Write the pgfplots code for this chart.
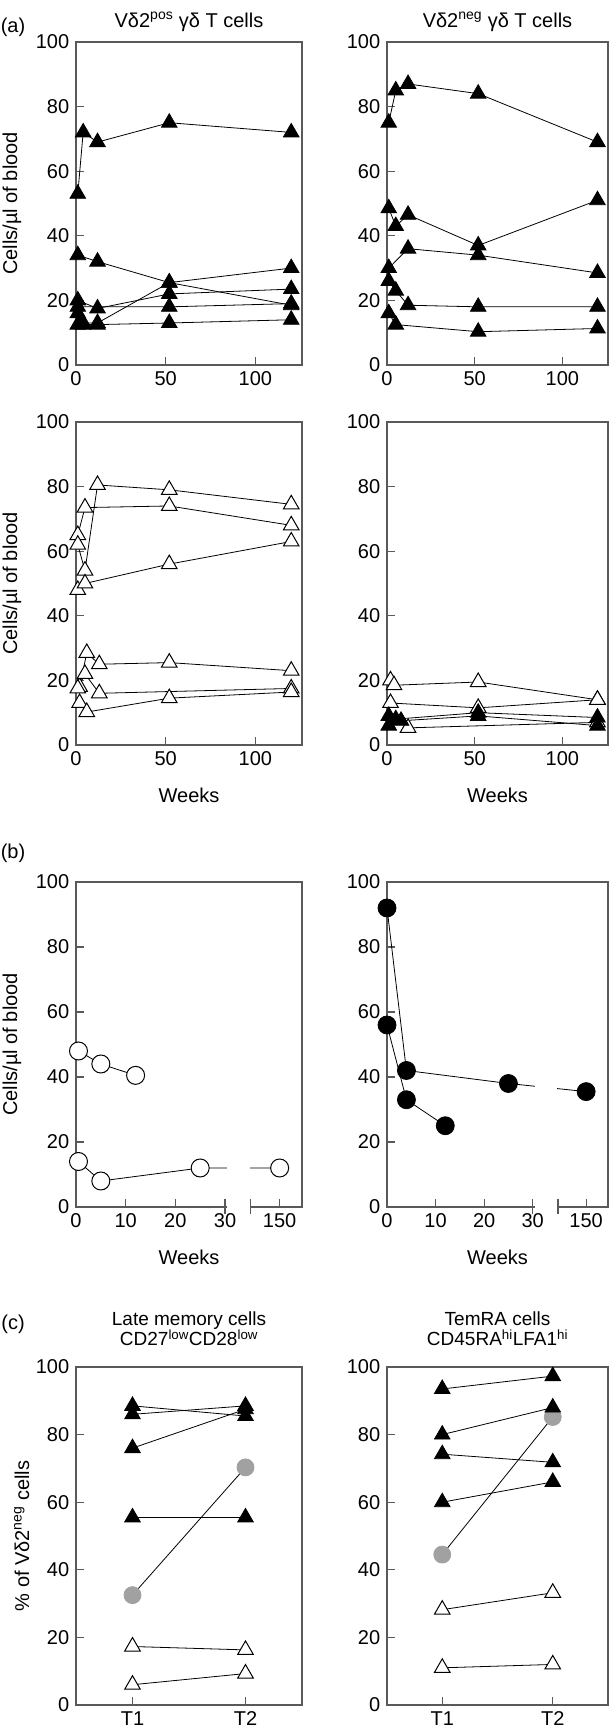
\documentclass[border=0pt]{standalone}
\usepackage{fontspec}
\setmainfont{Liberation Sans}
\usepackage{pgfplots}
\pgfplotsset{compat=1.18}
\definecolor{frame}{gray}{0.35}
\definecolor{dotgrey}{gray}{0.63}
\pgfplotsset{
  panel/.style={scale only axis, height=323pt, ymin=0, ymax=100, ytick={0,20,...,100},
    tick pos=left, axis line style={frame, line width=1.4pt},
    every tick/.style={frame, line width=1.3pt}, major tick length=8pt,
    /pgf/number format/assume math mode=true, tick label style={black},
    every axis title/.style={at={(0.5,1.062)}, anchor=center},
    every axis y label/.style={at={(-0.283,0.5)}, rotate=90, anchor=center},
    every axis x label/.style={at={(0.5,-0.155)}, anchor=center}},
  weeksA/.style={xmin=0, xmax=126, xtick={0,50,100}},
  weeksB/.style={height=325pt, clip=false,
    x coord trafo/.code={\pgfmathparse{##1>100 ? ##1-109 : ##1}},
    xmin=0, xmax=154.5, xtick={0,10,20,30,150}, xticklabels={0,10,20,30,150}},
  tpoints/.style={height=338pt, xmin=0.5, xmax=2.5, xtick={1,2}, xticklabels={T1,T2},
    every axis title/.style={at={(0.5,1.112)}, anchor=center, align=center,
      font=\fontsize{19}{20}\selectfont},
    every axis y label/.style={at={(-0.24,0.5)}, rotate=90, anchor=center}},
  ft/.style={black, line width=0.8pt, mark=triangle*, mark size=9pt, mark options={fill=black, solid}},
  ot/.style={black, line width=0.8pt, mark=triangle*, mark size=9pt, mark options={fill=white, draw=black, line width=1pt}},
  fc/.style={black, line width=0.8pt, mark=*, mark size=9pt, mark options={fill=black}},
  oc/.style={black, line width=0.8pt, mark=*, mark size=9pt, mark options={fill=white, draw=black, line width=1pt}},
  gc/.style={black, line width=0.8pt, mark=*, mark size=8.5pt, mark options={fill=dotgrey, draw=dotgrey}},
}
\newcommand{\breakmarks}{%
  \fill[white] (axis cs:30.4,-0.8) rectangle (axis cs:144,97);
  \draw[frame, line width=1.3pt] ([yshift=-7pt]axis cs:30,0) -- ([yshift=8pt]axis cs:30,0);
  \draw[frame, line width=1.3pt] ([yshift=-7pt]axis cs:144.2,0) -- ([yshift=8pt]axis cs:144.2,0);}
\begin{document}
\fontsize{20}{24}\selectfont
\begin{tikzpicture}
\useasboundingbox (0pt,0pt) rectangle (610pt,1734pt);
\node at (13pt,1707pt) {(a)};
\node at (13pt,881pt) {(b)};
\node at (13pt,410pt) {(c)};

% (a) top left
\begin{axis}[panel, weeksA, at={(76pt,1369pt)}, anchor=south west, width=226pt,
  title={Vδ2\textsuperscript{pos} γδ T cells}, ylabel={Cells/µl of blood}]
\addplot[ft] coordinates {(1,53) (4,72) (12,69) (52,75) (120,72)};
\addplot[ft] coordinates {(1,34) (12,32) (52,25.5) (120,18.5)};
\addplot[ft] coordinates {(1,20) (12,17.5) (52,22) (120,23.5)};
\addplot[ft] coordinates {(1,18) (52,18) (120,19)};
\addplot[ft] coordinates {(1,16) (4,13) (12,13) (52,25.5) (120,30)};
\addplot[ft] coordinates {(1,12.5) (4,12.5) (12,12.5) (52,13) (120,14)};
\end{axis}

% (a) top right
\begin{axis}[panel, weeksA, at={(387pt,1369pt)}, anchor=south west, width=221pt,
  title={Vδ2\textsuperscript{neg} γδ T cells}]
\addplot[ft] coordinates {(1,75) (5,85) (12,87) (52,84) (120,69)};
\addplot[ft] coordinates {(1,48.5) (5,43) (12,46.5) (52,37) (120,51)};
\addplot[ft] coordinates {(1,30) (12,36) (52,34) (120,28.5)};
\addplot[ft] coordinates {(1,26) (5,23) (12,18.5) (52,18) (120,18)};
\addplot[ft] coordinates {(1,16) (5,12.5) (52,10.3) (120,11.3)};
\end{axis}

% (a) bottom left
\begin{axis}[panel, weeksA, at={(76pt,989pt)}, anchor=south west, width=226pt,
  ylabel={Cells/µl of blood}, xlabel={Weeks}]
\addplot[ot] coordinates {(1,65) (5,73.5) (52,74) (120,68)};
\addplot[ot] coordinates {(1,62) (5,54) (12,80.5) (52,79) (120,74.5)};
\addplot[ot] coordinates {(1,48) (5,50) (52,56) (120,63)};
\addplot[ot] coordinates {(2,18) (6,28.5) (13,25) (52,25.5) (120,23)};
\addplot[ot] coordinates {(1,17.5) (5,22) (13,16) (120,17.5)};
\addplot[ot] coordinates {(2,13) (6,10.2) (52,14.5) (120,16.4)};
\end{axis}

% (a) bottom right
\begin{axis}[panel, weeksA, at={(387pt,989pt)}, anchor=south west, width=221pt,
  xlabel={Weeks}]
\addplot[ot] coordinates {(2,20) (4,18.5) (52,19.5) (120,14)};
\addplot[ot] coordinates {(2,13) (52,11.5) (120,14)};
\addplot[ot] coordinates {(12,5.3) (120,7)};
\addplot[ft] coordinates {(1,9) (5,8) (52,10) (120,8.5)};
\addplot[ft] coordinates {(1,6) (8,7.5) (52,9) (120,6)};
\end{axis}

% (b) left
\begin{axis}[panel, weeksB, at={(76pt,527pt)}, anchor=south west, width=226pt,
  ylabel={Cells/µl of blood}, xlabel={Weeks}]
\addplot[oc] coordinates {(0.5,48) (5,44) (12,40.5)};
\addplot[oc] coordinates {(0.5,14) (5,8) (25,12) (150,12)};
\breakmarks
\end{axis}

% (b) right
\begin{axis}[panel, weeksB, at={(387pt,527pt)}, anchor=south west, width=221pt,
  xlabel={Weeks}]
\addplot[fc] coordinates {(0,92) (4,42) (25,38) (150,35.5)};
\addplot[fc] coordinates {(0,56) (4,33) (12,25)};
\breakmarks
\end{axis}

% (c) left
\begin{axis}[panel, tpoints, at={(76pt,29pt)}, anchor=south west, width=226pt,
  title={Late memory cells\\CD27\textsuperscript{low}CD28\textsuperscript{low}},
  ylabel={\% of Vδ2\textsuperscript{neg} cells}]
\addplot[gc] coordinates {(1,32.5) (2,70.3)};
\addplot[ft] coordinates {(1,88.5) (2,85.5)};
\addplot[ft] coordinates {(1,86) (2,88.5)};
\addplot[ft] coordinates {(1,76) (2,87.5)};
\addplot[ft] coordinates {(1,55.5) (2,55.5)};
\addplot[ot] coordinates {(1,17.3) (2,16.3)};
\addplot[ot] coordinates {(1,6) (2,9.3)};
\end{axis}

% (c) right
\begin{axis}[panel, tpoints, at={(387pt,29pt)}, anchor=south west, width=221pt,
  title={TemRA cells\\CD45RA\textsuperscript{hi}LFA1\textsuperscript{hi}}]
\addplot[gc] coordinates {(1,44.5) (2,85.2)};
\addplot[ft] coordinates {(1,93.5) (2,97.3)};
\addplot[ft] coordinates {(1,80) (2,88)};
\addplot[ft] coordinates {(1,74.2) (2,71.8)};
\addplot[ft] coordinates {(1,60) (2,66)};
\addplot[ot] coordinates {(1,28.2) (2,33.2)};
\addplot[ot] coordinates {(1,11) (2,12)};
\end{axis}
\end{tikzpicture}
\end{document}
